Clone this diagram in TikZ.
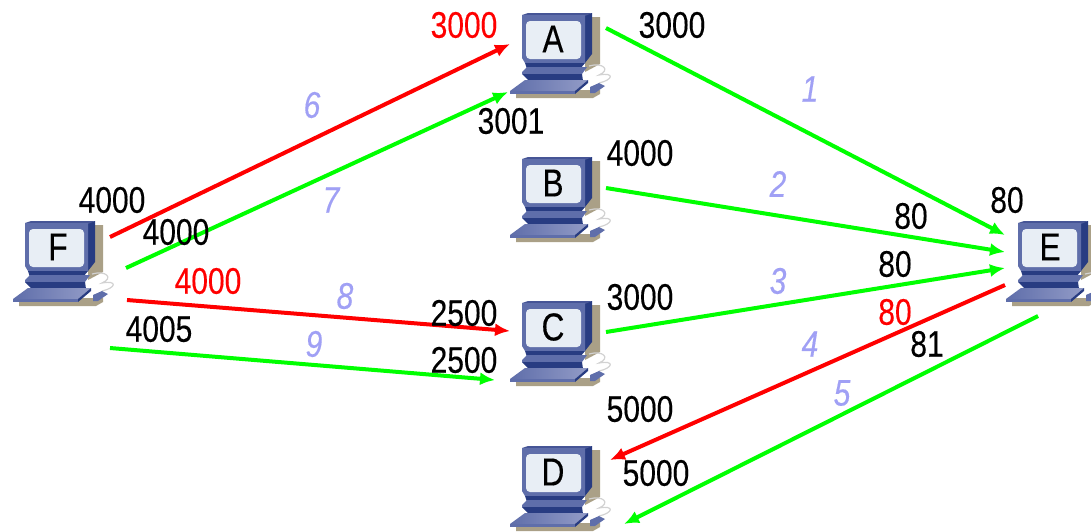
\documentclass[tikz,border=0pt]{standalone}
\usepackage{fontspec}
\setmainfont{Liberation Sans}
\newfontfamily\labfont[FakeStretch=0.81,FakeBold=0.3]{Liberation Sans}
\usetikzlibrary{arrows.meta}
\definecolor{linkgreen}{RGB}{0,255,0}
\definecolor{linkred}{RGB}{255,0,0}
\definecolor{stepblue}{RGB}{160,160,245}
\definecolor{pcshadow}{RGB}{170,160,135}
\definecolor{pcfront}{RGB}{95,110,170}
\definecolor{pcside}{RGB}{40,60,130}
\definecolor{pctop}{RGB}{70,85,150}
\definecolor{pcscreen}{RGB}{232,238,245}
\definecolor{pcbase}{RGB}{110,122,180}
\tikzset{
  link/.style={line width=4pt,-{Latex[length=15pt,width=13pt]}},
  num/.style={font=\labfont\fontsize{37}{37}\selectfont,inner sep=0pt,text=black},
  rednum/.style={num,text=linkred},
  stepnum/.style={font=\labfont\fontsize{37}{37}\selectfont\itshape,inner sep=0pt,text=stepblue},
  pcname/.style={font=\labfont\fontsize{39}{39}\selectfont,inner sep=0pt,text=black},
  pics/computer/.style n args={3}{code={
    % shadows
    \fill[pcshadow] (32,-25) -- (47,-25) -- (47,22) -- (32,30) -- cycle;
    \fill[pcshadow] (-37,48) -- (47,48) -- (47,52) -- (40,56) -- (-37,56) -- cycle;
    % cable
    \draw[gray!35,line width=1.2pt] (36,24) .. controls (50,20) and (58,28) .. (46,33)
       .. controls (62,30) and (60,38) .. (46,41);
    % monitor
    \fill[pcside] (32,-27) -- (39,-29) -- (39,12) -- (32,21) -- cycle;
    \fill[pctop] (-31,-27) -- (-25,-29) -- (39,-29) -- (32,-26) -- cycle;
    \fill[pcfront] (-31,-27) -- (32,-27) -- (32,21) -- (-28,21) -- (-31,16) -- cycle;
    % base
    \fill[pcside] (-28,21) -- (32,21) -- (27,27) -- (-26,27) -- cycle;
    \fill[pcfront] (-31,30) -- (-26,25) -- (34,25) -- (29,32) -- (-31,32) -- cycle;
    \fill[pcside] (-31,32) -- (29,32) -- (30,39) -- (-24,39) -- cycle;
    % keyboard
    \shade[left color=pcfront,right color=pcbase!75] (-28,38) -- (35,38) -- (22,49) -- (-43,49) -- cycle;
    \fill[pcside] (22,49) -- (35,38) -- (35,41) -- (22,52) -- cycle;
    \fill[pcfront] (-43,49) -- (22,49) -- (22,52) -- (-43,52) -- cycle;
    % mouse
    \fill[pcfront] (37,45) -- (46,41) -- (52,44) -- (42,51) -- (37,51) -- cycle;
    % screen
    \fill[pcscreen,rounded corners=4pt] (-27,-21) rectangle (28,17);
    \node[pcname] (#1) at (#3,-3) {#2};
  }}
}
\begin{document}
\begin{tikzpicture}[x=1pt,y=-1pt]
\useasboundingbox (0,0) rectangle (1091,531);
\fill[white] (0,0) rectangle (1091,531);
\pic at (553,42) {computer={A}{A}{0}};
\pic at (553,186) {computer={B}{B}{0}};
\pic at (553,330) {computer={C}{C}{0}};
\pic at (553,475) {computer={D}{D}{0}};
\pic at (56,250) {computer={F}{F}{2}};
\pic at (1049,250) {computer={E}{E}{1}};
% free ends
\coordinate (f1) at (110,237); \coordinate (a1) at (510,44);
\coordinate (f2) at (126,268); \coordinate (a2) at (508,92);
\coordinate (f3) at (127,300); \coordinate (c1) at (510,331);
\coordinate (f4) at (110,348); \coordinate (c2) at (495,380);
\coordinate (a3) at (606,28);  \coordinate (e1) at (1005,235);
\coordinate (b1) at (606,188); \coordinate (e2) at (1005,252);
\coordinate (c3) at (606,332); \coordinate (e3) at (1005,268);
\coordinate (e4) at (1005,285); \coordinate (d1) at (610,460);
\coordinate (e5) at (1038,316); \coordinate (d2) at (624,524);
\draw[link,linkred] (f1) -- (a1);
\draw[link,linkgreen] (f2) -- (a2);
\draw[link,linkred] (f3) -- (c1);
\draw[link,linkgreen] (f4) -- (c2);
\draw[link,linkgreen] (a3) -- (e1);
\draw[link,linkgreen] (b1) -- (e2);
\draw[link,linkgreen] (c3) -- (e3);
\draw[link,linkred] (e4) -- (d1);
\draw[link,linkgreen] (e5) -- (d2);
% port labels
\node[rednum] (p1) at (464,25) {3000};
\node[num] (p2) at (672,25) {3000};
\node[num] (p3) at (511,121) {3001};
\node[num] (p4) at (640,153) {4000};
\node[num] (p5) at (112,200) {4000};
\node[num] (p6) at (176,232) {4000};
\node[rednum] (p7) at (208,281) {4000};
\node[num] (p8) at (159,329) {4005};
\node[num] (p9) at (464,313) {2500};
\node[num] (p10) at (464,360) {2500};
\node[num] (p11) at (640,297) {3000};
\node[num] (p12) at (640,409) {5000};
\node[num] (p13) at (656,473) {5000};
\node[num] (p14) at (1007,200) {80};
\node[num] (p15) at (911,216) {80};
\node[num] (p16) at (895,264) {80};
\node[rednum] (p17) at (895,312) {80};
\node[num] (p18) at (927,344) {81};
% step numbers
\node[stepnum] (s1) at (810,89) {1};
\node[stepnum] (s2) at (778,184) {2};
\node[stepnum] (s3) at (778,281) {3};
\node[stepnum] (s4) at (810,344) {4};
\node[stepnum] (s5) at (842,393) {5};
\node[stepnum] (s6) at (312,105) {6};
\node[stepnum] (s7) at (331,200) {7};
\node[stepnum] (s8) at (345,296) {8};
\node[stepnum] (s9) at (314,344) {9};
\end{tikzpicture}
\end{document}
